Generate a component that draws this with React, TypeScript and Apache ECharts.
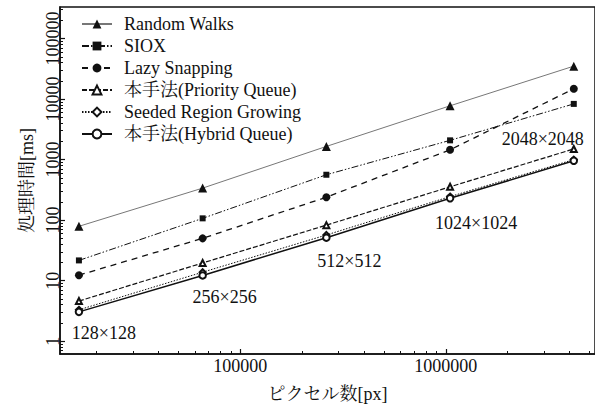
import React, { useEffect, useRef } from 'react';
import * as echarts from 'echarts';

const FONT = "'Liberation Serif', 'Times New Roman', 'Noto Serif CJK JP', 'Noto Sans CJK JP', serif";

// Data
const xValues = [16384, 65536, 262144, 1048576, 4194304];
const sizeLabels = ['128×128', '256×256', '512×512', '1024×1024', '2048×2048'];
const seriesNames = [
  'Random Walks',
  'SIOX',
  'Lazy Snapping',
  '本手法(Priority Queue)',
  'Seeded Region Growing',
  '本手法(Hybrid Queue)',
];
const randomWalks = [79, 338, 1650, 7740, 35000];
const siox = [21.6, 107, 562, 2080, 8320];
const lazySnapping = [12.3, 50, 239, 1450, 14800];
const priorityQueue = [4.6, 19.6, 82.6, 355, 1500];
const seededRegionGrowing = [3.3, 13.8, 56.8, 245, 1000];
const hybridQueue = [3.05, 12.2, 51.3, 230, 955];

// Axes
const xMajorTicks = [100000, 1000000];
const xMinorTicks = [
  20000, 30000, 40000, 50000, 60000, 70000, 80000, 90000,
  200000, 300000, 400000, 500000, 600000, 700000, 800000, 900000,
  2000000, 3000000, 4000000, 5000000,
];
const yMajorTicks = [1, 10, 100, 1000, 10000, 100000];
const yMinorTicks = [
  0.7, 0.8, 0.9,
  2, 3, 4, 5, 6, 7, 8, 9,
  20, 30, 40, 50, 60, 70, 80, 90,
  200, 300, 400, 500, 600, 700, 800, 900,
  2000, 3000, 4000, 5000, 6000, 7000, 8000, 9000,
  20000, 30000, 40000, 50000, 60000, 70000, 80000, 90000,
  200000, 300000,
];
const X_MIN = 13254;
const X_MAX = 5320000;
const Y_MIN = 0.614;
const Y_MAX = 332000;

const labelOffsets = [
  [25, 21],
  [22, 22],
  [23, 23],
  [26, 25],
  [-31, -22],
];

export default function App() {
  const ref = useRef<HTMLDivElement>(null);

  useEffect(() => {
    const chart = echarts.init(ref.current!, null, { renderer: 'svg' });
    const pts = (ys: number[]) => xValues.map((x, i) => [x, ys[i]]);
    const ink = '#111';
    const txt = { fontFamily: FONT, fontSize: 18, color: ink };

    const hybridData = xValues.map((x, i) => ({
      value: [x, hybridQueue[i]],
      label: {
        show: true,
        position: 'inside',
        offset: labelOffsets[i],
        formatter: sizeLabels[i],
        ...txt,
      },
    }));

    const option: any = {
      animation: false,
      backgroundColor: '#fff',
      grid: {
        left: 60,
        top: 7,
        right: -2,
        bottom: 49,
        show: true,
        borderColor: ink,
        borderWidth: 1.5,
        backgroundColor: 'transparent',
      },
      legend: {
        orient: 'vertical',
        left: 76,
        top: 10,
        itemWidth: 30,
        itemHeight: 11,
        itemGap: 4,
        selectedMode: false,
        textStyle: { ...txt, lineHeight: 18, padding: [0, 0, 0, 7] },
        data: seriesNames,
      },
      xAxis: [
        {
          type: 'log',
          min: X_MIN,
          max: X_MAX,
          name: 'ピクセル数[px]',
          nameLocation: 'middle',
          nameGap: 31,
          nameTextStyle: txt,
          axisLine: { lineStyle: { color: ink, width: 1.5 } },
          axisTick: { inside: true, length: 5, customValues: xMajorTicks, lineStyle: { color: ink, width: 1.2 } },
          axisLabel: { customValues: xMajorTicks, margin: 3, ...txt, formatter: (v: number) => String(Math.round(v)) },
          splitLine: { show: false },
        },
        {
          type: 'log',
          min: X_MIN,
          max: X_MAX,
          position: 'bottom',
          axisLine: { show: false },
          axisTick: { inside: true, length: 3, customValues: xMinorTicks, lineStyle: { color: ink, width: 1 } },
          axisLabel: { show: false },
          splitLine: { show: false },
        },
      ],
      yAxis: [
        {
          type: 'log',
          min: Y_MIN,
          max: Y_MAX,
          name: '処理時間[ms]',
          nameLocation: 'middle',
          nameGap: 17,
          nameTextStyle: txt,
          axisLine: { lineStyle: { color: ink, width: 1.5 } },
          axisTick: { inside: true, length: 5, customValues: yMajorTicks, lineStyle: { color: ink, width: 1.2 } },
          axisLabel: { customValues: yMajorTicks, rotate: 90, margin: -2, ...txt, formatter: (v: number) => String(Math.round(v)) },
          splitLine: { show: false },
        },
        {
          type: 'log',
          min: Y_MIN,
          max: Y_MAX,
          position: 'left',
          axisLine: { show: false },
          axisTick: { inside: true, length: 3, customValues: yMinorTicks, lineStyle: { color: ink, width: 1 } },
          axisLabel: { show: false },
          splitLine: { show: false },
        },
      ],
      series: [
        {
          name: seriesNames[0],
          type: 'line',
          data: pts(randomWalks),
          symbol: 'triangle',
          symbolSize: 9,
          itemStyle: { color: ink },
          lineStyle: { color: '#777', width: 1 },
        },
        {
          name: seriesNames[1],
          type: 'line',
          data: pts(siox),
          symbol: 'rect',
          symbolSize: 6,
          itemStyle: { color: ink },
          lineStyle: { color: ink, width: 1, type: [7, 2, 1.5, 2, 1.5, 2] },
        },
        {
          name: seriesNames[2],
          type: 'line',
          data: pts(lazySnapping),
          symbol: 'circle',
          symbolSize: 8,
          itemStyle: { color: ink },
          lineStyle: { color: ink, width: 1.3, type: [6, 5] },
        },
        {
          name: seriesNames[3],
          type: 'line',
          data: pts(priorityQueue),
          symbol: 'emptyTriangle',
          symbolSize: 6,
          itemStyle: { color: ink, borderWidth: 1.2 },
          lineStyle: { color: ink, width: 1.2, type: [5, 2] },
        },
        {
          name: seriesNames[4],
          type: 'line',
          data: pts(seededRegionGrowing),
          symbol: 'emptyDiamond',
          symbolSize: 6,
          itemStyle: { color: ink, borderWidth: 1.2 },
          lineStyle: { color: ink, width: 1, type: [1.5, 1.5] },
        },
        {
          name: seriesNames[5],
          type: 'line',
          data: hybridData,
          symbol: 'emptyCircle',
          symbolSize: 6.5,
          itemStyle: { color: ink, borderWidth: 1.5 },
          lineStyle: { color: ink, width: 1.5 },
        },
      ],
    };

    chart.setOption(option);
    return () => chart.dispose();
  }, []);

  return (
    <div
      ref={ref}
      style={{ position: 'fixed', left: 0, top: 0, width: 595, height: 408, background: '#fff' }}
    />
  );
}
